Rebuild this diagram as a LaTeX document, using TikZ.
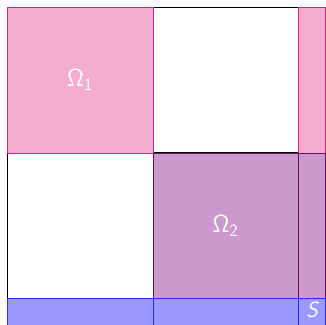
\documentclass[tikz,border=0pt]{standalone}
\definecolor{pinkfill}{RGB}{243,173,206}
\definecolor{pinkline}{RGB}{226,30,130}
\definecolor{violetfill}{RGB}{203,153,203}
\definecolor{violetline}{RGB}{110,10,100}
\definecolor{bluefill}{RGB}{153,153,255}
\definecolor{blueline}{RGB}{40,40,255}
\tikzset{
  cell/.style={rectangle, inner sep=0pt, outer sep=0pt, line width=1pt, anchor=north west},
  pinkcell/.style={cell, fill=pinkfill, draw=pinkline},
  violetcell/.style={cell, fill=violetfill, draw=violetline},
  bluecell/.style={cell, fill=bluefill, draw=blueline},
  whitecell/.style={cell, fill=white, draw=black},
  lab/.style={text=white, font=\fontsize{26}{30}\selectfont},
}
\begin{document}
\begin{tikzpicture}[x=1pt,y=-1pt]
\useasboundingbox (0,0) rectangle (326,324);
\fill[white] (0,0) rectangle (326,324);
\begin{scope}
\clip (0,0) rectangle (326,324);
% white cells of the grid
\node[whitecell, minimum width=146pt, minimum height=145pt] (w1) at (153,7) {};
\node[whitecell, minimum width=146pt, minimum height=145pt] (w2) at (7,153) {};
% Omega_1 row
\node[pinkcell, minimum width=146pt, minimum height=146pt] (o1) at (7,7) {};
\node[pinkcell, minimum width=27pt, minimum height=146pt] (o1s) at (298,7) {};
% Omega_2 row
\node[violetcell, minimum width=145pt, minimum height=145pt] (o2) at (153,153) {};
\node[violetcell, minimum width=27pt, minimum height=145pt] (o2s) at (298,153) {};
% S row
\node[bluecell, minimum width=146pt, minimum height=30pt] (s1) at (7,298) {};
\node[bluecell, minimum width=145pt, minimum height=30pt] (s2) at (153,298) {};
\node[bluecell, minimum width=27pt, minimum height=30pt] (s3) at (298,298) {};
\end{scope}
% labels
\node[lab] (l1) at (o1.center) {$\mathsf{\Omega}_{\mathsf{1}}$};
\node[lab] (l2) at (o2.center) {$\mathsf{\Omega}_{\mathsf{2}}$};
\node[text=white, font=\fontsize{22}{26}\selectfont\sffamily\slshape] (ls) at (312,310) {S};
\end{tikzpicture}
\end{document}
